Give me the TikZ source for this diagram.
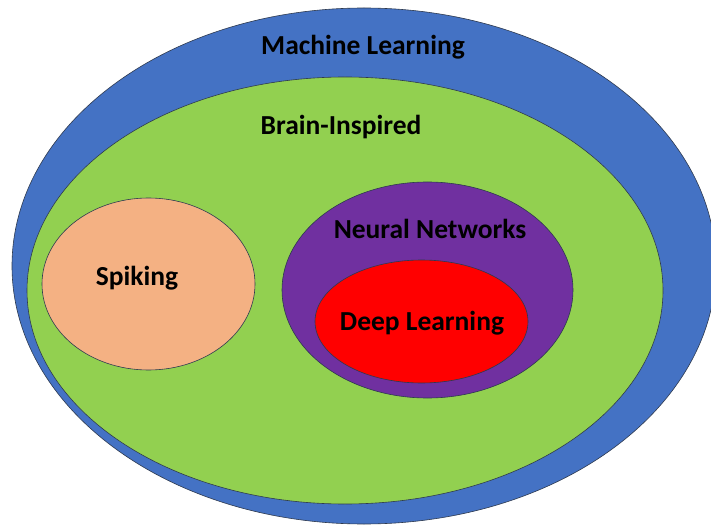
\documentclass[tikz,border=0pt]{standalone}
\usepackage{fontspec}
\setmainfont{Carlito}
\definecolor{mlblue}{HTML}{4472C4}
\definecolor{brgreen}{HTML}{92D050}
\definecolor{spkorange}{HTML}{F4B183}
\definecolor{nnpurple}{HTML}{7030A0}
\definecolor{dlred}{HTML}{FF0000}
\definecolor{rim}{HTML}{2E3A4F}
\begin{document}
\begin{tikzpicture}[x=1pt,y=-1pt,
  region/.style={draw=rim,line width=0.6pt},
  lbl/.style={font=\bfseries\fontsize{27.5}{32}\selectfont,text=black,inner sep=0pt}]
\useasboundingbox (0,0) rectangle (711,526);
\clip (0,0) rectangle (711,526);
\fill[white] (0,0) rectangle (711,526);
% nested sets
\draw[region,fill=mlblue] (364,266) ellipse [x radius=352,y radius=258];
\draw[region,fill=brgreen] (345,290.5) ellipse [x radius=318,y radius=213.5];
\draw[region,fill=spkorange] (148.5,284) ellipse [x radius=106.5,y radius=86];
\draw[region,fill=nnpurple] (427.5,290) ellipse [x radius=145.5,y radius=108];
\draw[region,fill=dlred] (421.5,321.5) ellipse [x radius=106.5,y radius=61.5];
% labels
\node[lbl] (ml) at (363,47) {Machine Learning};
\node[lbl] (bi) at (341,127) {Brain-Inspired};
\node[lbl] (sp) at (137,278) {Spiking};
\node[lbl] (nn) at (430,229) {Neural Networks};
\node[lbl] (dl) at (422,323) {Deep Learning};
\end{tikzpicture}
\end{document}
